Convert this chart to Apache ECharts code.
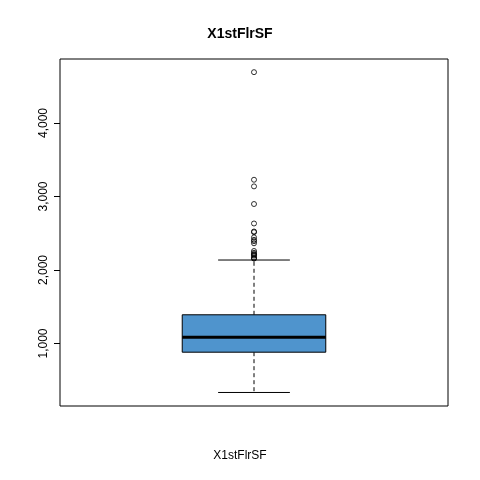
<!DOCTYPE html>
<html><head><meta charset="utf-8">
<script src="https://cdn.jsdelivr.net/npm/echarts@6/dist/echarts.min.js"></script>
<style>html,body{margin:0;background:#fff}#c{width:480px;height:480px}</style>
</head><body><div id="c"></div>
<script>
// five-number summary of X1stFlrSF
var stats = [334, 882, 1087, 1391, 2136];
var outliers = [4692, 3228, 3138, 2898, 2633, 2524, 2515, 2444, 2411, 2392, 2364, 2259, 2234, 2217, 2207, 2196, 2172, 2158, 2156];
var yTicks = [1000, 2000, 3000, 4000];

var chart = echarts.init(document.getElementById('c'));
chart.setOption({
  animation: false,
  title: { text: 'X1stFlrSF', left: 'center', top: 22, textStyle: { fontFamily: 'Liberation Sans', fontSize: 14, fontWeight: 'bold', color: '#000' } },
  grid: { left: 60, right: 32, top: 59, bottom: 74, show: true, borderColor: '#000', borderWidth: 1 },
  graphic: [{ type: 'text', left: 'center', top: 450, style: { text: 'X1stFlrSF', font: '12px Liberation Sans', fill: '#000' } }],
  xAxis: { type: 'value', min: 0.5, max: 1.5, show: false },
  yAxis: {
    type: 'value', min: 150, max: 4871, splitLine: { show: false },
    axisLine: { show: false },
    axisTick: { show: true, length: 6, lineStyle: { color: '#000' }, customValues: yTicks },
    axisLabel: { rotate: 90, color: '#000', fontFamily: 'Liberation Sans', fontSize: 12, margin: 10, customValues: yTicks }
  },
  series: [{
    type: 'custom',
    data: [[1].concat(stats)],
    renderItem: function (params, api) {
      var x = api.value(0);
      var p = function (v) { return api.coord([x, v]); };
      var c = p(stats[2])[0];
      var half = api.size([0.37, 0])[0] / 2;
      var st = half / 2;
      var line = { stroke: '#000', lineWidth: 1 };
      var dash = { stroke: '#000', lineWidth: 1, lineDash: [4, 3] };
      var lo = p(stats[0])[1], q1 = p(stats[1])[1], md = p(stats[2])[1], q3 = p(stats[3])[1], hi = p(stats[4])[1];
      return { type: 'group', children: [
        { type: 'line', shape: { x1: c, y1: q1, x2: c, y2: lo }, style: dash },
        { type: 'line', shape: { x1: c, y1: q3, x2: c, y2: hi }, style: dash },
        { type: 'line', shape: { x1: c - st, y1: lo, x2: c + st, y2: lo }, style: line },
        { type: 'line', shape: { x1: c - st, y1: hi, x2: c + st, y2: hi }, style: line },
        { type: 'rect', shape: { x: c - half, y: q3, width: half * 2, height: q1 - q3 }, style: { fill: '#4f94cd', stroke: '#000', lineWidth: 1 } },
        { type: 'line', shape: { x1: c - half, y1: md, x2: c + half, y2: md }, style: { stroke: '#000', lineWidth: 3 } }
      ] };
    }
  }, {
    type: 'scatter',
    data: outliers.map(function (v) { return [1, v]; }),
    symbol: 'circle', symbolSize: 5,
    itemStyle: { color: 'transparent', borderColor: '#000', borderWidth: 1 }
  }]
});
</script></body></html>
